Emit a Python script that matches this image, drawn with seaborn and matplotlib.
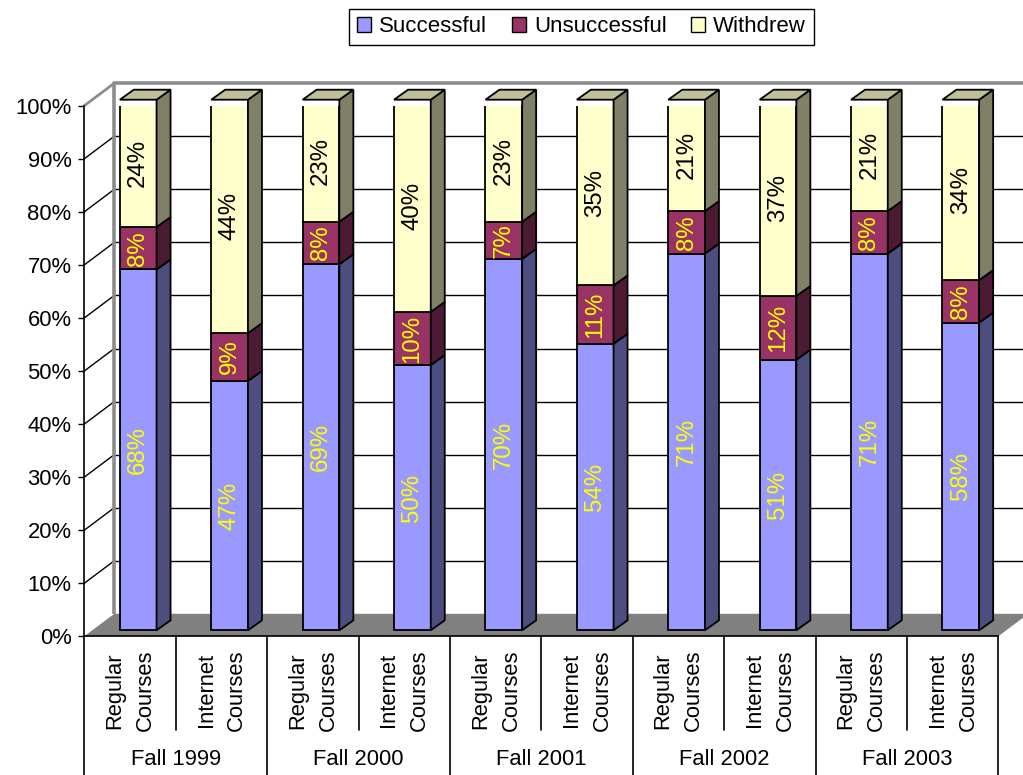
import numpy as np
import matplotlib
matplotlib.use("Agg")
import matplotlib.pyplot as plt
from matplotlib.patches import Polygon, Patch
import seaborn as sns

# ---------------- data ----------------
years = ["Fall 1999", "Fall 2000", "Fall 2001", "Fall 2002", "Fall 2003"]
course_types = ["Regular\nCourses", "Internet\nCourses"]
series_names = ["Successful", "Unsuccessful", "Withdrew"]
successful = [68, 47, 69, 50, 70, 54, 71, 51, 71, 58]
unsuccessful = [8, 9, 8, 10, 7, 11, 8, 12, 8, 8]
withdrew = [24, 44, 23, 40, 23, 35, 21, 37, 21, 34]
y_ticks = [0, 10, 20, 30, 40, 50, 60, 70, 80, 90, 100]

# ---------------- style ----------------
sns.set_theme(style="white")
plt.rcParams['font.family'] = ['Liberation Sans', 'DejaVu Sans']
plt.rcParams['text.color'] = 'black'
plt.rcParams['legend.labelcolor'] = 'black'

front_col = {"Successful": "#9999FF", "Unsuccessful": "#993366", "Withdrew": "#FFFFCC"}
side_col = {"Successful": "#4D4D80", "Unsuccessful": "#4D1A33", "Withdrew": "#808066"}
top_col = {"Successful": "#7373BF", "Unsuccessful": "#73264D", "Withdrew": "#BFBF99"}
label_col = {"Successful": "#FFFF00", "Unsuccessful": "#FFFF00", "Withdrew": "#000000"}

W, H = 1023, 775
fig = plt.figure(figsize=(W / 100, H / 100), dpi=100)
L_px, R_px, B_px, T_px = 84.3, 998.3, 636.3, 105.7
ax = fig.add_axes([L_px / W, 1 - B_px / H, (R_px - L_px) / W, (B_px - T_px) / H])
ax.patch.set_alpha(0)

n = len(successful)
sx = (R_px - L_px) / n      # px per category
sy = (B_px - T_px) / 100.0  # px per percent


def to_data(dx_px, dy_px):
    return dx_px / sx, dy_px / sy


# depth geometry
Dx, Dy = to_data(30, 22.5)       # whole floor depth
fx, fy = to_data(8.2, 6.0)       # bar front plane offset
bdx, bdy = to_data(14, 10)       # bar depth
bar_w = 36.7 / sx

xpos = np.arange(n)

# ---------------- floor & walls ----------------
floor = Polygon([(-0.5, 0), (n - 0.5, 0), (n - 0.5 + Dx, Dy), (-0.5 + Dx, Dy)],
                closed=True, fc="#808080", ec="none", zorder=1, clip_on=False)
ax.add_patch(floor)

for v in y_ticks[1:-1]:
    ax.plot([-0.5 + Dx, n + 1], [v + Dy, v + Dy], color="black", lw=1, zorder=2, clip_on=False)
    ax.plot([-0.5, -0.5 + Dx], [v, v + Dy], color="black", lw=1, zorder=2, clip_on=False)

grey = "#8C8C8C"
ax.plot([-0.5 + Dx, -0.5 + Dx], [Dy, 100 + Dy], color=grey, lw=2.6, zorder=2, clip_on=False,
        solid_capstyle="butt")
ax.plot([-0.5 + Dx, n + 1], [100 + Dy, 100 + Dy], color=grey, lw=2.6, zorder=2, clip_on=False)
ax.plot([-0.5, -0.5 + Dx], [100, 100 + Dy], color=grey, lw=2, zorder=2, clip_on=False)

# ---------------- bars ----------------
series_vals = [successful, unsuccessful, withdrew]
cum = np.zeros(n)
for name, vals in zip(series_names, series_vals):
    vals = np.asarray(vals, dtype=float)
    sns.barplot(x=xpos + fx, y=vals, native_scale=True, width=bar_w,
                bottom=cum + fy, color=front_col[name], saturation=1,
                edgecolor="black", linewidth=1.3, errorbar=None, ax=ax, zorder=4)
    for i in range(n):
        b = cum[i] + fy
        t = cum[i] + vals[i] + fy
        xr = xpos[i] + fx + bar_w / 2
        side = Polygon([(xr, b), (xr + bdx, b + bdy), (xr + bdx, t + bdy), (xr, t)],
                       closed=True, fc=side_col[name], ec="black", lw=1.3,
                       zorder=4, clip_on=False, joinstyle="miter")
        ax.add_patch(side)
        ax.text(xpos[i] + fx, (b + t) / 2, f"{int(vals[i])}%", rotation=90,
                ha="center", va="center", fontsize=17.3, color=label_col[name],
                zorder=6, clip_on=False)
    cum = cum + vals

# top faces
for i in range(n):
    T = cum[i] + fy
    xr = xpos[i] + fx + bar_w / 2
    xl = xpos[i] + fx - bar_w / 2
    topf = Polygon([(xl, T), (xr, T), (xr + bdx, T + bdy), (xl + bdx, T + bdy)],
                   closed=True, fc=top_col["Withdrew"], ec="black", lw=1.3,
                   zorder=4, clip_on=False, joinstyle="miter")
    ax.add_patch(topf)

# ---------------- axes ----------------
ax.set_xlim(-0.5, n - 0.5)
ax.set_ylim(0, 100)
ax.set_xlabel("")
ax.set_ylabel("")
ax.set_xticks([])
ax.set_yticks(y_ticks)
ax.set_yticklabels([f"{v}%" for v in y_ticks])
ax.tick_params(axis="y", left=True, length=4.3, width=1, pad=5, labelsize=15.8,
               color="black", labelcolor="black", direction="out")
for s in ["top", "right"]:
    ax.spines[s].set_visible(False)
for s in ["left", "bottom"]:
    ax.spines[s].set_color("black")
    ax.spines[s].set_linewidth(1.2)
    ax.spines[s].set_zorder(5)

# category axis (two-level)
for k in range(len(years) + 1):
    xb = -0.5 + 2 * k
    ax.plot([xb, xb], [0, -30], color="black", lw=1.2, clip_on=False, zorder=5)
for k in range(len(years)):
    xb = 0.5 + 2 * k
    ax.plot([xb, xb], [0, -17.7], color="black", lw=1.2, clip_on=False, zorder=5)

for i in range(n):
    ax.text(xpos[i], -10.2, course_types[i % 2], rotation=90, ha="center", va="center",
            multialignment="center", fontsize=15.8, linespacing=1.6, clip_on=False)
for k, yr in enumerate(years):
    ax.text(2 * k + 0.5, -23.3, yr, ha="center", va="center", fontsize=15.8, clip_on=False)

# ---------------- legend ----------------
handles = [Patch(fc=front_col[nm], ec="black", lw=1) for nm in series_names]
leg = fig.legend(handles, series_names, loc="center", bbox_to_anchor=(581.5 / W, 1 - 27 / H),
                 ncol=3, frameon=True, fancybox=False, edgecolor="black", framealpha=1,
                 fontsize=16, handlelength=0.65, handleheight=0.65, handletextpad=0.35,
                 columnspacing=1.1, borderpad=0.35)
leg.get_frame().set_linewidth(1)

fig.savefig("out.png", dpi=100)
